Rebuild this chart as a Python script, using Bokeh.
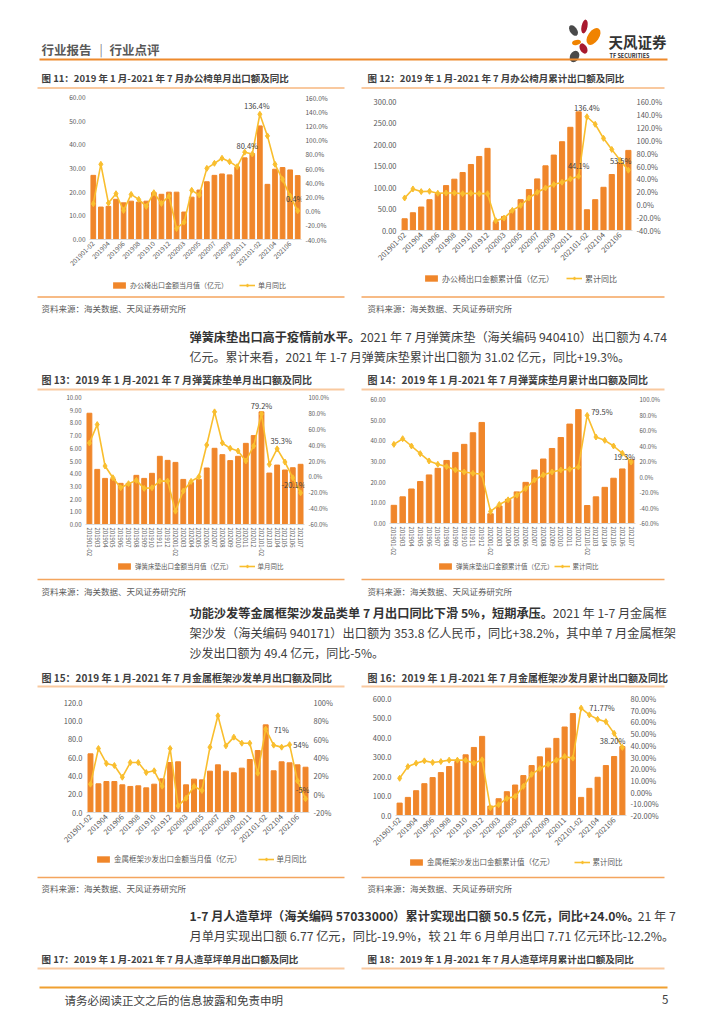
import math
from bokeh.plotting import figure
from bokeh.models import (Range1d, LinearAxis, FixedTicker, PrintfTickFormatter,
                          CustomJSTickFormatter, Legend, LegendItem)
from bokeh.layouts import column, row
from bokeh.core.properties import value
from bokeh.embed import file_html
from bokeh.resources import INLINE

FONT = "Noto Sans CJK SC"

# ---------------- data ----------------
months = ["201901-02", "201903", "201904", "201905", "201906", "201907", "201908", "201909",
          "201910", "201911", "201912", "202001-02", "202003", "202004", "202005", "202006",
          "202007", "202008", "202009", "202010", "202011", "202012", "202101-02", "202103",
          "202104", "202105", "202106", "202107"]

chair_month = [27.1, 13.7, 14.0, 17.0, 15.5, 16.2, 15.8, 16.2, 19.8, 19.1, 20.0, 20.0, 11.6, 17.9,
               20.9, 24.4, 27.1, 27.7, 27.3, 30.6, 34.5, 36.3, 48.0, 23.3, 29.7, 30.4, 29.4, 27.0]
chair_month_yoy = [10.4, 65.9, 11.3, 24.5, 0.9, 23.5, 16.5, 6.6, 25.9, 10.8, 21.2, -24.5, -15.5, 29.2,
                   22.6, 60.2, 67.3, 74.4, 69.6, 62.6, 83.0, 80.4, 136.4, 105.9, 65.9, 44.7, 21.2, 0.4]
chair_cum = [27.3, 41.3, 54.6, 71.7, 85.7, 104.4, 119.3, 134.8, 153.5, 172.2, 191.0, 20.3, 32.7, 47.5,
             71.7, 95.1, 120.0, 150.4, 175.4, 206.5, 240.0, 275.9, 48.3, 71.7, 100.5, 130.2, 158.2, 186.3]
chair_cum_yoy = [10.4, 24.4, 20.3, 20.8, 17.7, 18.2, 18.2, 17.1, 17.7, 17.1, 17.1, -24.9, -20.8, -8.8,
                 -1.0, 10.4, 19.2, 26.0, 31.2, 34.8, 40.0, 44.1, 136.4, 124.7, 102.9, 85.7, 69.1, 53.5]

mattress_month = [8.76, 4.34, 3.63, 3.60, 3.24, 3.24, 3.87, 3.63, 4.03, 5.37, 5.05, 4.89, 3.55, 3.30,
                  3.55, 4.45, 6.00, 5.50, 5.03, 5.37, 6.39, 7.00, 8.87, 4.05, 4.68, 4.29, 4.47, 4.74]
mattress_month_yoy = [42.7, 65.9, 13.7, -1.1, -13.7, -8.6, -4.4, -14.5, -13.7, -5.3, -5.3, -43.2, -17.9,
                      -5.7, 0.2, 40.2, 81.9, 42.7, 36.0, 32.6, 20.0, 38.9, 79.2, 15.8, 35.3, 18.7, -1.1, -20.1]
mattress_cum = [8.8, 12.9, 16.7, 20.3, 23.5, 26.7, 30.5, 34.4, 38.3, 43.9, 48.9, 4.7, 8.5, 11.7, 15.3,
                19.9, 25.9, 31.2, 36.3, 41.6, 48.1, 55.1, 8.7, 12.9, 17.5, 21.9, 26.4, 31.02]
mattress_cum_yoy = [42.1, 49.4, 40.0, 30.1, 20.7, 16.4, 13.4, 9.1, 6.5, 4.8, 3.5, -44.5, -35.5, -29.5,
                    -23.5, -14.9, -3.8, 2.7, 6.5, 9.1, 10.0, 13.0, 79.5, 51.6, 47.3, 40.0, 30.6, 19.3]

sofa_month = [64.0, 31.3, 33.8, 33.8, 30.2, 28.4, 29.1, 26.9, 30.9, 36.7, 54.5, 55.3, 30.2, 36.4, 35.6,
              45.1, 52.0, 45.1, 43.3, 48.4, 57.8, 67.6, 95.6, 45.5, 55.3, 54.2, 52.0, 49.4]
sofa_month_yoy = [10.9, 49.8, 33.5, 31.3, 18.5, 34.5, 34.5, 23.6, 25.5, 8.7, 49.8, -12.7, -4.4, 8.4, 4.0,
                  51.3, 85.5, 52.7, 62.2, 55.6, 55.6, 22.9, 71.0, 53.5, 51.3, 54.0, 14.5, -5.0]
sofa_cum = [63.6, 92.8, 127.2, 163.3, 194.3, 220.0, 251.0, 276.8, 311.2, 349.0, 405.7, 48.1, 86.0, 122.1,
            156.4, 204.6, 256.1, 300.8, 345.5, 395.4, 453.8, 522.6, 92.8, 139.2, 196.0, 256.1, 302.6, 353.8]
sofa_cum_yoy = [11.8, 21.8, 24.7, 26.7, 25.3, 26.1, 27.3, 27.3, 27.3, 24.7, 27.6, -13.4, -10.8, -5.4,
                -3.7, 4.9, 15.2, 20.1, 23.8, 27.3, 30.4, 29.0, 71.77, 66.0, 62.2, 60.2, 50.2, 38.2]

# annotated points: (index, text)
chair_month_notes = [(22, "136.4%"), (21, "80.4%"), (27, "0.4%")]
chair_cum_notes = [(22, "136.4%"), (21, "44.1%"), (27, "53.5%")]
mattress_month_notes = [(22, "79.2%"), (24, "35.3%"), (27, "-20.1%")]
mattress_cum_notes = [(22, "79.5%"), (27, "19.3%")]
sofa_month_notes = [(22, "71%"), (25, "54%"), (27, "-5%")]
sofa_cum_notes = [(22, "71.77%"), (27, "38.20%")]

BAR = "#F0862A"
LINE = "#F9BE2E"
TXT = "#404040"
GREY = "#595959"
ORANGE = "#EE8A2C"
PEACH = "#F9C99F"
LINE_ORANGE = "#F4A55E"

X0 = 1      # screen origin of the layout (measured)
PW = 716 - X0
BLOCK = {}


def est_width(s, size, bold=False):
    w = 0.0
    k = 1.06 if bold else 1.0
    for ch in s:
        if ord(ch) > 0x2E80:
            w += 1.0
        elif ch == " ":
            w += 0.224
        elif ch in ".,":
            w += 0.27 * k
        elif ch == "%":
            w += 0.87 * k
        elif ch == "-":
            w += 0.33 * k
        else:
            w += 0.555 * k
    return w * size


def page_block(oy, H):
    p = figure(width=PW, height=H, output_backend="svg", toolbar_location=None,
               x_range=Range1d(X0, X0 + PW), y_range=Range1d(oy + H, oy),
               min_border=0, outline_line_color=None, frame_align=False)
    p.axis.visible = False
    p.grid.visible = False
    BLOCK[p.id] = (oy, oy + H)
    return p


def txt(p, x, y, s, size, color=TXT, bold=False, align="left"):
    p.text(x=[x], y=[y], text=[s], text_font=value(FONT), text_font_size=f"{size}px",
           text_color=color, text_font_style="bold" if bold else "normal",
           text_align=align, text_baseline="middle")


def segs(p, x, y, parts, size):
    for s, bold in parts:
        txt(p, x, y, s, size, "#333333" if bold else TXT, bold)
        x += est_width(s, size, bold)


def hline(p, x0, x1, y, color, w):
    p.segment(x0=[x0], y0=[y], x1=[x1], y1=[y], line_color=color, line_width=w)


def add_legend(p, labels, size, x1, yc, x2):
    """Legend of a chart, drawn in the page block right under the chart.
    The swatch carriers are zero-sized, so only the legend swatches show."""
    top, bottom = BLOCK[p.id]
    cy = (top + bottom) / 2
    hx = 20
    vb = p.vbar(x=[hx], top=[cy], bottom=[cy], width=0, fill_color=BAR, line_color=None)
    ln = p.line(x=[hx, hx], y=[cy, cy], line_color=LINE, line_width=1.6)
    sc = p.scatter(x=[hx], y=[cy], marker="diamond", size=0, fill_color=LINE, line_color=LINE)
    gw, gh, st = 16, 8, 3
    spacing = x2 - (x1 + gw + st + est_width(labels[0], size))
    leg = Legend(items=[LegendItem(label=labels[0], renderers=[vb]),
                        LegendItem(label=labels[1], renderers=[ln, sc])],
                 location=(x1 - X0, bottom - (yc + 5)), orientation="horizontal",
                 border_line_color=None, background_fill_alpha=0, padding=0, margin=0,
                 spacing=int(max(spacing, 0)), glyph_width=gw, glyph_height=gh,
                 label_standoff=st, label_height=10,
                 label_text_font=FONT, label_text_font_size=f"{size}px",
                 label_text_color=GREY)
    p.add_layout(leg)


def chart(ox, oy, W, H, frame, bars, yoy, ymax, lstep, lfmt, pmin, pmax, pstep, pfmt,
          lab_step, lab_angle, tick_size, notes, note_offsets):
    l, r, t, b = frame
    n = len(bars)
    p = figure(width=W, height=H, output_backend="svg", toolbar_location=None,
               x_range=Range1d(-0.5, n - 0.5), y_range=Range1d(0, ymax),
               min_border_left=l - ox, min_border_right=ox + W - r,
               min_border_top=t - oy, min_border_bottom=oy + H - b,
               outline_line_color=None, frame_align=False)
    p.grid.visible = False
    p.extra_y_ranges = {"pct": Range1d(pmin, pmax)}
    p.add_layout(LinearAxis(y_range_name="pct"), "right")
    idx = list(range(n))
    p.vbar(x=idx, top=bars, width=0.62, fill_color=BAR, line_color=BAR)
    p.line(x=idx, y=yoy, y_range_name="pct", line_color=LINE, line_width=1.6)
    p.scatter(x=idx, y=yoy, y_range_name="pct", marker="diamond", size=6,
              fill_color=LINE, line_color=LINE)

    ya = p.yaxis[0]
    ya.ticker = FixedTicker(ticks=[i * lstep for i in range(int(round(ymax / lstep)) + 1)])
    ya.formatter = PrintfTickFormatter(format=lfmt)
    ra = p.yaxis[1]
    k = int(round((pmax - pmin) / pstep))
    ra.ticker = FixedTicker(ticks=[pmin + i * pstep for i in range(k + 1)])
    ra.formatter = PrintfTickFormatter(format=pfmt)
    for ax in (ya, ra):
        ax.axis_line_color = None
        ax.major_tick_line_color = None
        ax.minor_tick_line_color = None
        ax.major_tick_out = 0
        ax.major_label_text_font_size = f"{tick_size}px"
        ax.major_label_text_color = GREY
        ax.major_label_text_font = FONT
        ax.major_label_standoff = 4
    xa = p.xaxis[0]
    xa.ticker = FixedTicker(ticks=list(range(0, n, lab_step)))
    xa.formatter = CustomJSTickFormatter(args=dict(labels=months),
                                         code="return labels[Math.round(tick)] || '';")
    xa.major_label_orientation = lab_angle
    xa.axis_line_color = "#D9D9D9"
    xa.major_tick_line_color = None
    xa.minor_tick_line_color = None
    xa.major_tick_out = 0
    xa.major_label_text_font_size = f"{tick_size}px"
    xa.major_label_text_color = GREY
    xa.major_label_text_font = FONT
    xa.major_label_standoff = 3

    for (i, s), (dx, dy, al) in zip(notes, note_offsets):
        p.text(x=[i], y=[yoy[i]], text=[s], y_range_name="pct", x_offset=dx, y_offset=dy,
               text_font=value(FONT), text_font_size="7.5px", text_color=TXT,
               text_align=al, text_baseline="middle")
    return p


# ---------------- header block (y 1..90) ----------------
A = page_block(X0, 90 - X0)
txt(A, 42, 50, "行业报告", 12.5, GREY, True)
txt(A, 100, 49, "|", 12, "#7F7F7F")
txt(A, 110, 50, "行业点评", 12.5, GREY, True)
A.ellipse(x=[574], y=[31], width=[7], height=[12], angle=[0.6], fill_color="#4A4A4A", line_color=None)
A.ellipse(x=[585], y=[27], width=[6], height=[14], angle=[-0.2], fill_color="#A8192E", line_color=None)
A.ellipse(x=[594], y=[37], width=[11], height=[19], angle=[-0.6], fill_color="#F08300", line_color=None)
A.ellipse(x=[577], y=[43], width=[9], height=[5], angle=[0.2], fill_color="#F08300", line_color=None)
A.ellipse(x=[584], y=[49], width=[7], height=[11], angle=[0.5], fill_color="#A8192E", line_color=None)
A.ellipse(x=[575], y=[57], width=[9], height=[12], angle=[-0.5], fill_color="#4A4A4A", line_color=None)
txt(A, 609, 42, "天风证券", 14.5, "#333333", True)
txt(A, 610, 56, "TF SECURITIES", 5.5, "#333333", True)
hline(A, 40, 668, 60, ORANGE, 2)
txt(A, 42, 78, "图 11：2019 年 1 月-2021 年 7 月办公椅单月出口额及同比", 9.5, TXT, True)
txt(A, 368, 78, "图 12：2019 年 1 月-2021 年 7 月办公椅月累计出口额及同比", 9.5, TXT, True)
hline(A, 38, 345, 88.5, PEACH, 2)
hline(A, 362, 665, 88.5, PEACH, 2)

# ---------------- charts 11 / 12 (y 90..274) ----------------
c11 = chart(X0, 90, 362 - X0, 184, (90, 302, 98, 240), chair_month, chair_month_yoy, 60, 10, "%.2f",
            -40, 160, 20, "%.1f%%", 2, math.pi / 4, 6.5,
            chair_month_notes, [(-3, -9, "center"), (-5, -9, "center"), (-3, -12, "center")])
c12 = chart(362, 90, 354, 184, (401, 633, 102, 231), chair_cum, chair_cum_yoy, 300, 50, "%.2f",
            -40, 160, 20, "%.1f%%", 2, math.pi / 4, 7.5,
            chair_cum_notes, [(0, -9, "center"), (0, -11, "center"), (3, -10, "right")])

# ---------------- text block (y 274..393) ----------------
C = page_block(274, 119)
add_legend(C, ["办公椅出口金额当月值（亿元）", "单月同比"], 7, 112, 286, 240)
add_legend(C, ["办公椅出口金额累计值（亿元）", "累计同比"], 8, 424, 279.5, 567)
hline(C, 38, 345, 297.5, LINE_ORANGE, 1.5)
hline(C, 362, 665, 297.5, LINE_ORANGE, 1.5)
txt(C, 42, 308, "资料来源：海关数据、天风证券研究所", 8.5, GREY)
txt(C, 368, 308, "资料来源：海关数据、天风证券研究所", 8.5, GREY)
segs(C, 190, 337, [("弹簧床垫出口高于疫情前水平。", True),
                   ("2021 年 7 月弹簧床垫（海关编码 940410）出口额为 4.74", False)], 12.2)
segs(C, 190, 357, [("亿元。累计来看，2021 年 1-7 月弹簧床垫累计出口额为 31.02 亿元，同比+19.3%。", False)], 12)
txt(C, 42, 380, "图 13：2019 年 1 月-2021 年 7 月弹簧床垫单月出口额及同比", 10, TXT, True)
txt(C, 368, 380, "图 14：2019 年 1 月-2021 年 7 月弹簧床垫月累计出口额及同比", 10, TXT, True)
hline(C, 38, 345, 390, PEACH, 2)
hline(C, 362, 665, 390, PEACH, 2)

# ---------------- charts 13 / 14 (y 393..561) ----------------
c13 = chart(X0, 393, 362 - X0, 168, (86, 305, 398, 525), mattress_month, mattress_month_yoy, 10, 1, "%.2f",
            -60, 100, 20, "%.1f%%", 1, -math.pi / 2, 6,
            mattress_month_notes, [(0, -9, "center"), (4, -8, "center"), (5, -8, "right")])
c14 = chart(362, 393, 354, 168, (390, 636, 400, 524), mattress_cum, mattress_cum_yoy, 60, 10, "%.2f",
            -60, 100, 20, "%.1f%%", 1, -math.pi / 2, 6,
            mattress_cum_notes, [(4, -4, "left"), (4, -6, "right")])

# ---------------- text block (y 561..690) ----------------
E = page_block(561, 129)
add_legend(E, ["弹簧床垫出口金额当月值（亿元）", "单月同比"], 6.5, 117, 567, 240)
add_legend(E, ["弹簧床垫出口金额累计值（亿元）", "累计同比"], 6.5, 438, 567, 555)
hline(E, 38, 345, 580, LINE_ORANGE, 1.5)
hline(E, 362, 665, 580, LINE_ORANGE, 1.5)
txt(E, 42, 591, "资料来源：海关数据、天风证券研究所", 8.5, GREY)
txt(E, 368, 591, "资料来源：海关数据、天风证券研究所", 8.5, GREY)
segs(E, 190, 613, [("功能沙发等金属框架沙发品类单 7 月出口同比下滑 5%，短期承压。", True),
                   ("2021 年 1-7 月金属框", False)], 12.2)
segs(E, 190, 633, [("架沙发（海关编码 940171）出口额为 353.8 亿人民币，同比+38.2%，其中单 7 月金属框架", False)], 12.2)
segs(E, 190, 653, [("沙发出口额为 49.4 亿元，同比-5%。", False)], 12)
txt(E, 42, 678, "图 15：2019 年 1 月-2021 年 7 月金属框架沙发单月出口额及同比", 10, TXT, True)
txt(E, 368, 678, "图 16：2019 年 1 月-2021 年 7 月金属框架沙发月累计出口额及同比", 10, TXT, True)
hline(E, 38, 345, 687, PEACH, 2)
hline(E, 362, 665, 687, PEACH, 2)

# ---------------- charts 15 / 16 (y 690..852) ----------------
c15 = chart(X0, 690, 362 - X0, 162, (87, 310, 703, 813), sofa_month, sofa_month_yoy, 120, 20, "%.1f",
            -20, 100, 20, "%d%%", 2, math.pi / 4, 7.5,
            sofa_month_notes, [(8, 0, "left"), (19, 0, "right"), (4, -9, "right")])
c16 = chart(362, 690, 354, 162, (396, 627, 699, 816), sofa_cum, sofa_cum_yoy, 600, 100, "%.1f",
            -20, 80, 10, "%.2f%%", 2, math.pi / 4, 7.5,
            sofa_cum_notes, [(8, -1, "left"), (3, -7, "right")])

# ---------------- text block (y 852..1016) ----------------
G = page_block(852, 164)
add_legend(G, ["金属框架沙发出口金额当月值（亿元）", "单月同比"], 7.5, 96, 860, 259)
add_legend(G, ["金属框架沙发出口金额累计值（亿元）", "累计同比"], 7.5, 409, 863, 575)
hline(G, 38, 345, 878, LINE_ORANGE, 1.5)
hline(G, 362, 665, 878, LINE_ORANGE, 1.5)
txt(G, 42, 888, "资料来源：海关数据、天风证券研究所", 8.5, GREY)
txt(G, 368, 888, "资料来源：海关数据、天风证券研究所", 8.5, GREY)
segs(G, 190, 916, [("1-7 月人造草坪（海关编码 57033000）累计实现出口额 50.5 亿元，同比+24.0%。", True),
                   ("21 年 7", False)], 12.2)
segs(G, 190, 936, [("月单月实现出口额 6.77 亿元，同比-19.9%，较 21 年 6 月单月出口 7.71 亿元环比-12.2%。", False)], 12.2)
txt(G, 42, 959, "图 17：2019 年 1 月-2021 年 7 月人造草坪单月出口额及同比", 9.5, TXT, True)
txt(G, 368, 959, "图 18：2019 年 1 月-2021 年 7 月人造草坪月累计出口额及同比", 9.5, TXT, True)
hline(G, 38, 345, 969, PEACH, 2)
hline(G, 362, 665, 969, PEACH, 2)
hline(G, 40, 668, 988, "#F0A030", 2)
txt(G, 65, 1000, "请务必阅读正文之后的信息披露和免责申明", 11.5, TXT)
txt(G, 669, 1000, "5", 11.5, TXT, align="right")

layout = column(A, row(c11, c12, spacing=0), C, row(c13, c14, spacing=0), E,
                row(c15, c16, spacing=0), G, spacing=0)
open("out.html", "w").write(file_html(layout, INLINE, "天风证券 行业点评"))
